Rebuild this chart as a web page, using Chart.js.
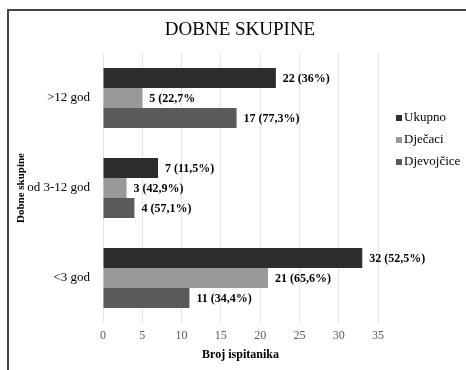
<!DOCTYPE html>
<html>
<head>
<meta charset="utf-8">
<script src="https://cdn.jsdelivr.net/npm/chart.js@4/dist/chart.umd.min.js"></script>
<style>
  html, body { margin: 0; padding: 0; background: #fff; }
  #wrap { width: 466px; height: 370px; position: relative; }
</style>
</head>
<body>
<div id="wrap"><canvas id="c" width="466" height="370"></canvas></div>
<script>
// ---- data ----
const chartTitle = 'DOBNE SKUPINE';
const categories = ['>12 god', 'od 3-12 god', '<3 god'];
const seriesNames = ['Ukupno', 'Dječaci', 'Djevojčice'];
const ukupno = [22, 7, 33];
const djecaci = [5, 3, 21];
const djevojcice = [17, 4, 11];
const ukupnoLabels = ['22 (36%)', '7 (11,5%)', '32 (52,5%)'];
const djecaciLabels = ['5 (22,7%', '3 (42,9%)', '21 (65,6%)'];
const djevojciceLabels = ['17 (77,3%)', '4 (57,1%)', '11 (34,4%)'];
const xTicks = [0, 5, 10, 15, 20, 25, 30, 35];

const SERIF = "'Liberation Serif', 'Times New Roman', serif";
const colors = ['#2d2d2d', '#999999', '#5a5a5a'];
const valueLabels = [ukupnoLabels, djecaciLabels, djevojciceLabels];

const framePlugin = {
  id: 'frame',
  beforeDraw(chart) {
    const ctx = chart.ctx;
    ctx.save();
    ctx.fillStyle = '#fff';
    ctx.fillRect(0, 0, chart.width, chart.height);
    ctx.strokeStyle = '#444';
    ctx.lineWidth = 2;
    ctx.beginPath();
    ctx.moveTo(8, chart.height);
    ctx.lineTo(8, 10);
    ctx.lineTo(chart.width, 10);
    ctx.stroke();
    ctx.font = '19px ' + SERIF;
    ctx.fillStyle = '#000';
    ctx.textAlign = 'center';
    ctx.textBaseline = 'middle';
    ctx.fillText(chartTitle, 240, 30);
    ctx.restore();
  }
};

const labelPlugin = {
  id: 'valueLabels',
  afterDatasetsDraw(chart) {
    const ctx = chart.ctx;
    ctx.save();
    ctx.font = 'bold 12px ' + SERIF;
    ctx.fillStyle = '#000';
    ctx.textBaseline = 'middle';
    ctx.textAlign = 'left';
    chart.data.datasets.forEach((ds, di) => {
      const meta = chart.getDatasetMeta(di);
      meta.data.forEach((el, i) => {
        ctx.fillText(valueLabels[di][i], el.x + 7, el.y + 1);
      });
    });
    ctx.restore();
  }
};

const legendPlugin = {
  id: 'customLegend',
  afterDraw(chart) {
    const ctx = chart.ctx;
    ctx.save();
    ctx.font = '13px ' + SERIF;
    ctx.textBaseline = 'middle';
    ctx.textAlign = 'left';
    const ys = [118, 140, 162];
    chart.data.datasets.forEach((ds, di) => {
      ctx.fillStyle = ds.backgroundColor;
      ctx.fillRect(396, ys[di] - 3, 6, 6);
      ctx.fillStyle = '#000';
      ctx.fillText(ds.label, 404, ys[di]);
    });
    ctx.restore();
  }
};

const series = [ukupno, djecaci, djevojcice];

new Chart(document.getElementById('c'), {
  type: 'bar',
  data: {
    labels: categories,
    datasets: series.map((vals, i) => ({
      label: seriesNames[i],
      data: vals,
      backgroundColor: colors[i],
      borderWidth: 0,
      categoryPercentage: 0.667,
      barPercentage: 1.0
    }))
  },
  options: {
    indexAxis: 'y',
    responsive: false,
    animation: false,
    events: [],
    layout: { padding: { left: 0, right: 88, top: 53, bottom: 0 } },
    plugins: {
      legend: { display: false },
      tooltip: { enabled: false },
      title: { display: false }
    },
    scales: {
      x: {
        type: 'linear',
        min: 0,
        max: 35,
        afterBuildTicks(s) { s.ticks = xTicks.map(v => ({ value: v })); },
        afterFit(s) { s.height = 47; },
        ticks: {
          color: '#595959',
          font: { family: SERIF, size: 12 },
          padding: 6
        },
        grid: { color: '#e4e4e4', drawTicks: false, lineWidth: 1 },
        border: { display: false },
        title: {
          display: true,
          text: 'Broj ispitanika',
          color: '#000',
          font: { family: SERIF, size: 12, weight: 'bold' },
          padding: { top: 0, bottom: 8 }
        }
      },
      y: {
        type: 'category',
        afterFit(s) { s.width = 103; },
        ticks: {
          color: '#000',
          font: { family: SERIF, size: 13 },
          padding: 13
        },
        grid: { display: false, drawTicks: false },
        border: { display: false },
        title: {
          display: true,
          text: 'Dobne skupine',
          color: '#000',
          font: { family: SERIF, size: 11, weight: 'bold' },
          padding: { top: 15, bottom: 0 }
        }
      }
    }
  },
  plugins: [framePlugin, labelPlugin, legendPlugin]
});
</script>
</body>
</html>
